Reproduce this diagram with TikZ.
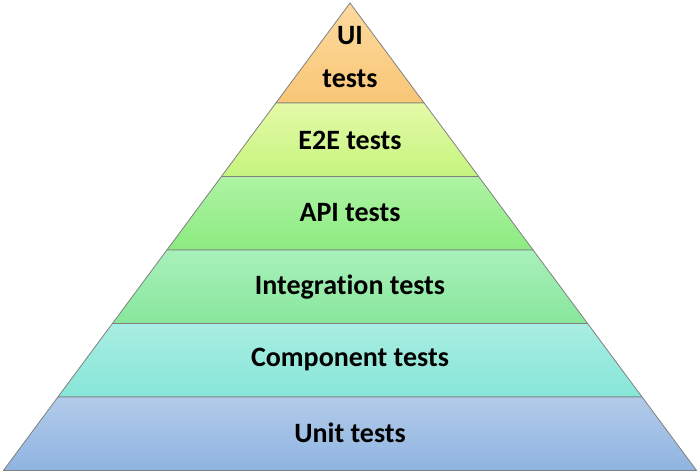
\documentclass[tikz,border=0pt]{standalone}
\usepackage{fontspec}
\setmainfont[Ligatures=NoCommon]{Carlito}
\usetikzlibrary{calc}

\definecolor{uitop}{HTML}{FDDA9E}
\definecolor{uibot}{HTML}{F8C676}
\definecolor{etop}{HTML}{E4FAA8}
\definecolor{ebot}{HTML}{C6F47E}
\definecolor{atop}{HTML}{AEF3A4}
\definecolor{abot}{HTML}{8CEB80}
\definecolor{itop}{HTML}{A8F0BA}
\definecolor{ibot}{HTML}{88E79C}
\definecolor{ctop}{HTML}{A9EDE2}
\definecolor{cbot}{HTML}{86E6D8}
\definecolor{utop}{HTML}{B2CBE9}
\definecolor{ubot}{HTML}{8FB4E1}
\definecolor{edgegray}{HTML}{808080}

\tikzset{
	layerlabel/.style={font=\fontsize{28}{32}\selectfont\bfseries, inner sep=0pt}
}

\begin{document}
\begin{tikzpicture}[x=1pt, y=-1pt]

  \tikzset{
    layer/.style={draw=edgegray, line width=0.8pt, line join=round}
  }

  \useasboundingbox (0,0) rectangle (700,475);

  \coordinate (apex) at (350,3);
  \coordinate (bl) at (3.4,470.5);
  \coordinate (br) at (696.6,470.5);

  % bands of the pyramid, from the tip down
  \foreach \ta/\tb/\ct/\cb in {
      0/0.2139/uitop/uibot,
      0.2139/0.3711/etop/ebot,
      0.3711/0.5283/atop/abot,
      0.5283/0.6856/itop/ibot,
      0.6856/0.8428/ctop/cbot,
      0.8428/1/utop/ubot}
  {
    \shade[layer, top color=\ct, bottom color=\cb]
      ($(apex)!\ta!(bl)$) -- ($(apex)!\tb!(bl)$)
      -- ($(apex)!\tb!(br)$) -- ($(apex)!\ta!(br)$) -- cycle;
  }

  \node[layerlabel, align=center, font=\fontsize{28}{43}\selectfont\bfseries] (ui) at (350,57) {UI\\tests};
  \node[layerlabel] (e2e) at (350,140) {E2E tests};
  \node[layerlabel] (api) at (350,213) {API tests};
  \node[layerlabel] (integ) at (350,287) {Integration tests};
  \node[layerlabel] (comp) at (350,360) {Component tests};
  \node[layerlabel] (unit) at (350,433) {Unit tests};

\end{tikzpicture}
\end{document}
